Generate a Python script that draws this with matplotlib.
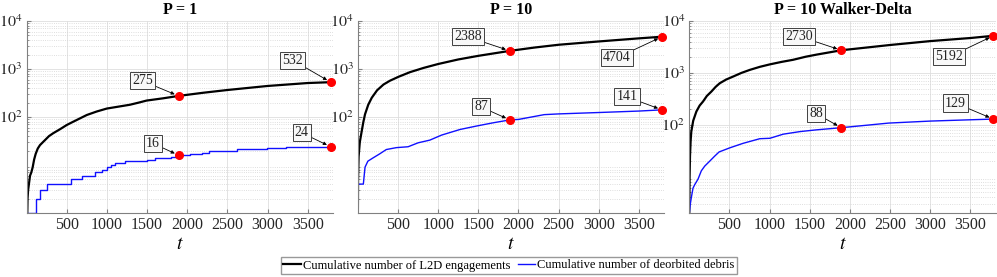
import matplotlib
matplotlib.use("Agg")
import matplotlib.pyplot as plt
from matplotlib.ticker import LogLocator, NullFormatter, FixedLocator
import numpy as np

plt.rcParams['font.family'] = ['Liberation Serif', 'DejaVu Serif']
plt.rcParams['mathtext.fontset'] = 'stix'

titles = ["P = 1", "P = 10", "P = 10 Walker-Delta"]
legend_labels = ["Cumulative number of L2D engagements", "Cumulative number of deorbited debris"]

# Panel 1 (P = 1)
t_eng_1 = [10, 13, 20, 30, 44, 60, 77, 95, 114, 140, 168, 230, 280, 333, 420, 500, 570, 645, 750,
           873, 1000, 1150, 1287, 1400, 1495, 1700, 1893, 2200, 2500, 3000, 3500, 3786]
n_eng_1 = [1, 2, 3, 4, 6, 7, 9, 13, 17, 22, 26, 33, 40, 46, 56, 68, 78, 90, 110,
           130, 150, 165, 180, 200, 220, 245, 275, 320, 365, 443, 510, 532]
t_deb_1 = [10, 118, 168, 251, 550, 695, 852, 935, 1000, 1050, 1100, 1225, 1495, 1598, 1800, 1893,
           2030, 2180, 2274, 2614, 2988, 3236, 3786]
n_deb_1 = [1, 2, 3, 4, 5, 6, 7, 8, 9, 10, 11, 12, 13, 14, 15, 16, 17, 18, 20, 22, 23, 24, 24]

# Panel 2 (P = 10)
t_eng_2 = [1, 3, 10, 25, 49, 70, 90, 130, 174, 240, 320, 400, 508, 650, 820, 1000, 1250, 1500,
           1893, 2200, 2500, 3000, 3500, 3786]
n_eng_2 = [1, 5, 15, 30, 51, 80, 114, 180, 252, 360, 475, 570, 690, 860, 1055, 1270, 1580, 1880,
           2388, 2800, 3200, 3750, 4350, 4704]
t_deb_2 = [1, 3, 6, 69, 90, 125, 188, 271, 355, 480, 626, 751, 897, 1043, 1273, 1481, 1690, 1893,
           2000, 2320, 2500, 3000, 3500, 3786]
n_deb_2 = [1, 2, 4, 4, 9, 12, 14, 17, 21, 23, 24, 29, 33, 42, 55, 65, 76, 87,
           89, 112, 116, 124, 133, 141]

# Panel 3 (P = 10 Walker-Delta)
t_eng_3 = [1, 5, 10, 18, 26, 50, 89, 130, 172, 220, 276, 330, 380, 460, 546, 650, 754, 880, 1004,
           1150, 1294, 1450, 1585, 1893, 2500, 3000, 3500, 3786]
n_eng_3 = [2, 10, 25, 50, 74, 120, 180, 235, 281, 360, 437, 540, 632, 745, 850, 1000, 1143, 1310, 1460,
           1630, 1790, 2050, 2250, 2730, 3450, 4100, 4700, 5192]
t_deb_3 = [1, 14, 27, 47, 68, 110, 151, 193, 256, 318, 372, 505, 671, 879, 1004, 1170, 1378, 1585,
           1893, 2483, 3000, 3500, 3786]
n_deb_3 = [2, 3, 4, 6, 7, 9, 13, 16, 20, 25, 30, 36, 44, 54, 55, 66, 74, 80,
           88, 108, 118, 125, 129]

t_mid = 1893
t_end = 3786

panels = [
    (t_eng_1, n_eng_1, t_deb_1, n_deb_1, True),
    (t_eng_2, n_eng_2, t_deb_2, n_deb_2, False),
    (t_eng_3, n_eng_3, t_deb_3, n_deb_3, False),
]
ylims_low = [1, 1, 2]
x_ticks = [500, 1000, 1500, 2000, 2500, 3000, 3500]
y_ticks = [1e2, 1e3, 1e4]

# label offsets in pixels (dx, dy): eng-mid, eng-end, deb-mid, deb-end
offsets = [
    [(-36, 15), (-38, 22), (-26, 12), (-29, 14)],
    [(-42, 14), (-45, -21), (-29, 13), (-35, 13)],
    [(-42, 14), (-44, -21), (-25, 14), (-38, 16)],
]
lefts = [26.5, 357.8, 689.2]

fig = plt.figure(figsize=(9.97, 2.77), dpi=100)
W, H = 997.0, 277.0
handles = None
for i, (te, ne, td, nd, step) in enumerate(panels):
    ax = fig.add_axes([lefts[i] / W, 1 - 213 / H, 306.5 / W, 192 / H])
    ax.set_yscale('log')
    ax.set_xlim(0, 3815)
    ax.set_ylim(ylims_low[i], 1e4)
    ax.grid(True, which='major', color='#dedede', lw=0.6, ls='-')
    ax.yaxis.set_minor_locator(LogLocator(base=10, subs=np.arange(2, 10)))
    ax.yaxis.set_minor_formatter(NullFormatter())
    ax.grid(True, which='minor', axis='y', color='#d4d4d4', lw=0.6, ls=':')
    ax.set_axisbelow(True)
    l1, = ax.plot(te, ne, color='black', lw=1.6)
    if step:
        l2, = ax.step(td, nd, where='post', color='#1010ff', lw=1.0)
    else:
        l2, = ax.plot(td, nd, color='#1010ff', lw=1.0)
    if handles is None:
        handles = [l1, l2]
    pts = [
        (t_mid, ne[te.index(t_mid)]),
        (t_end, ne[te.index(t_end)]),
        (t_mid, nd[td.index(t_mid)]),
        (t_end, nd[td.index(t_end)]),
    ]
    for (px, py), (dx, dy) in zip(pts, offsets[i]):
        ax.plot([px], [py], 'o', color='red', ms=5.5, zorder=5, clip_on=False)
        ax.annotate(str(py), xy=(px, py), xytext=(dx, dy), textcoords='offset pixels',
                    ha='center', va='center', fontsize=10, color='#222222',
                    bbox=dict(boxstyle='square,pad=0.15', fc='#f8f8f8', ec='#404040', lw=0.7),
                    arrowprops=dict(arrowstyle='-|>', color='black', lw=0.6,
                                    mutation_scale=5, shrinkA=0, shrinkB=3),
                    zorder=6)
    ax.set_xticks(x_ticks)
    ax.yaxis.set_major_locator(FixedLocator(y_ticks))
    ax.set_yticklabels([r'$10^{%d}$' % int(np.log10(v)) for v in y_ticks])
    ax.tick_params(axis='both', which='both', direction='in', colors='#808080',
                   labelcolor='#262626', labelsize=11.5)
    ax.tick_params(axis='both', which='major', length=3, pad=3)
    ax.tick_params(axis='y', which='minor', length=1.5)
    ax.tick_params(axis='x', which='minor', length=0)
    for s in ['top', 'right']:
        ax.spines[s].set_visible(False)
    for s in ['left', 'bottom']:
        ax.spines[s].set_color('#808080')
        ax.spines[s].set_linewidth(0.8)
    ax.set_title(titles[i], fontsize=11.5, fontweight='bold', pad=5)
    ax.set_xlabel('$t$', fontsize=14, labelpad=2)

fig.legend(handles, legend_labels, loc='center', bbox_to_anchor=(509 / W, 1 - 265.5 / H),
           ncol=2, frameon=True, fancybox=False, edgecolor='#808080', fontsize=9,
           handlelength=1.4, handletextpad=0.15, columnspacing=0.6, borderpad=0.2,
           borderaxespad=0)
fig.savefig('out.png', dpi=100)
